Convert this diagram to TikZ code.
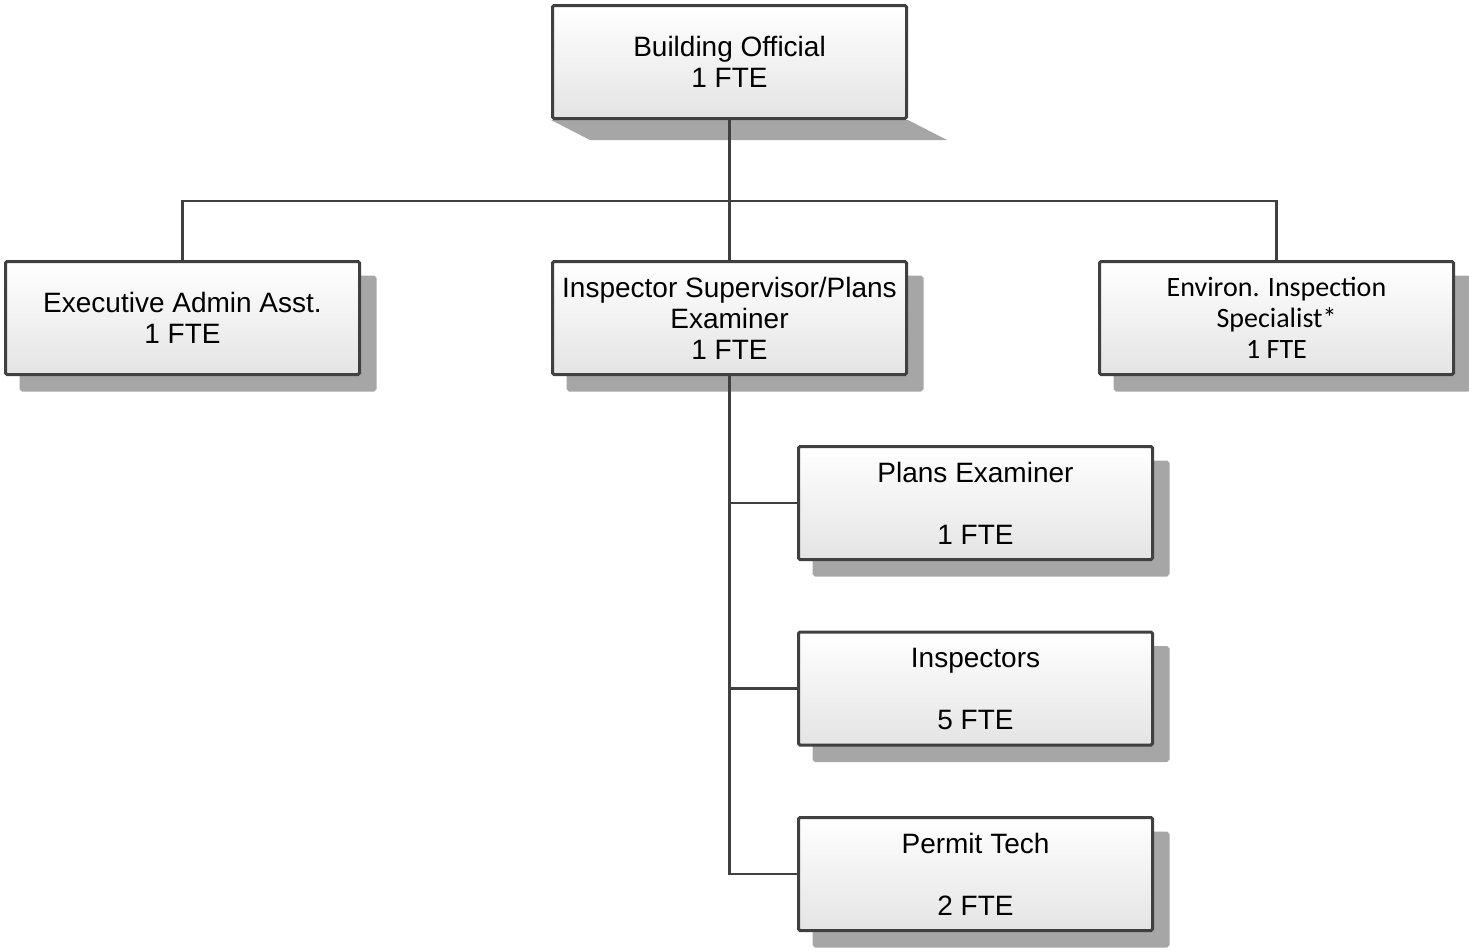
\documentclass[tikz,border=0pt]{standalone}
\usepackage{fontspec}
\setmainfont{Liberation Sans}
\newfontfamily\calibfont{Carlito}
\usetikzlibrary{shadows,backgrounds}
\definecolor{edgec}{HTML}{404040}
\definecolor{shadec}{HTML}{A6A6A6}
\definecolor{boxbot}{HTML}{E4E4E4}
\tikzset{
  orgbox/.style={draw=edgec, line width=3pt, rounded corners=1.5pt,
    top color=white, bottom color=boxbot,
    minimum width=354pt, minimum height=113pt, align=center,
    font=\fontsize{28}{31}\selectfont, text=black, inner sep=0pt},
  shadowed/.style={drop shadow={shadow xshift=15.5pt, shadow yshift=-15.5pt,
    fill=shadec, draw=shadec, line width=3pt, opacity=1, rounded corners=2pt}},
  conn/.style={draw=edgec, line width=2.2pt}
}
\begin{document}
\begin{tikzpicture}[x=1pt,y=-1pt]
\useasboundingbox (0,0) rectangle (1469,951);

% top position
\node[orgbox] (bo) at (729.5,62) {Building Official\\1 FTE};

% second level
\node[orgbox,shadowed] (ea) at (182.5,318) {Executive Admin Asst.\\1 FTE};
\node[orgbox,shadowed] (is) at (729.5,318) {Inspector Supervisor/Plans\\Examiner\\1 FTE};
\node[orgbox,shadowed,font=\calibfont\fontsize{28}{31}\selectfont] (ev) at (1276.5,318) {Environ. Inspection\\Specialist*\\1 FTE};

% staff under the supervisor
\node[orgbox,shadowed] (pe) at (975.5,503) {Plans Examiner\\[31pt]1 FTE};
\node[orgbox,shadowed] (in) at (975.5,688.5) {Inspectors\\[31pt]5 FTE};
\node[orgbox,shadowed] (pt) at (975.5,874) {Permit Tech\\[31pt]2 FTE};

% slanted shadow under the top box
\begin{scope}[on background layer]
  \fill[shadec] (bo.south west) -- ++(39,20) -- ([shift={(39,20)}]bo.south east) -- (bo.south east) -- cycle;
\end{scope}

% connectors
\coordinate (bar) at (729.5,201);
\draw[conn] (bo.south) -- (is.north);
\draw[conn] (ea.north) |- (bar) -| (ev.north);
\draw[conn] (is.south) |- (pt.west);
\draw[conn] (is.south |- pe.west) -- (pe.west);
\draw[conn] (is.south |- in.west) -- (in.west);
\end{tikzpicture}
\end{document}
